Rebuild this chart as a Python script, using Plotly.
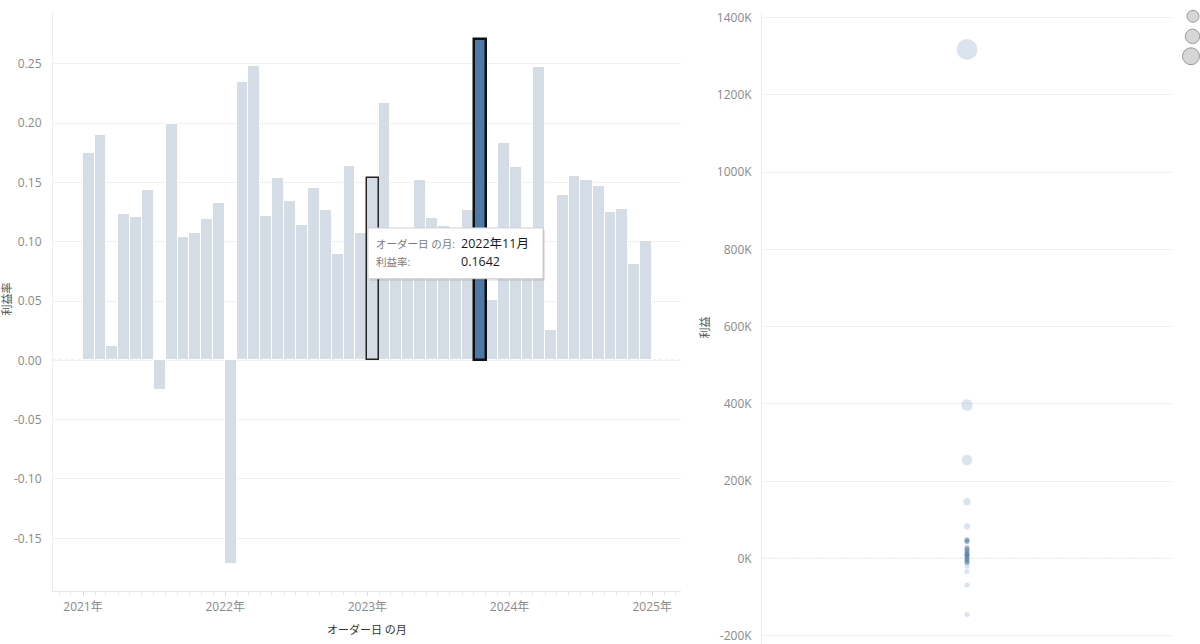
import pandas as pd
import plotly.graph_objects as go

# ---------------- data ----------------
month_start = "2021-01-01"
month_end = "2024-12-01"
profit_rate = [0.175, 0.190, 0.012, 0.123, 0.121, 0.144, -0.025, 0.199, 0.104, 0.107, 0.119, 0.133,
               -0.172, 0.235, 0.248, 0.122, 0.154, 0.134, 0.114, 0.145, 0.127, 0.090, 0.1642, 0.107,
               0.154, 0.217, 0.085, 0.095, 0.152, 0.120, 0.113, 0.100, 0.127, 0.271, 0.051, 0.183,
               0.163, 0.090, 0.247, 0.026, 0.139, 0.155, 0.152, 0.147, 0.125, 0.128, 0.081, 0.101]
selected_month = "2023-10-01"
outlined_month = "2023-01-01"
tooltip_month = "2022-11-01"

# scatter: profit (yen) and sales (yen) per item; highlighted items drawn dark
light_profit = [1318000, 397000, 255000, 147000, 83000, 30000, 22000, 8000, -5000, -12000,
                -20000, -34000, -69000, -145000]
light_sales = [6000000, 1800000, 1500000, 720000, 520000, 260000, 200000, 150000, 100000, 90000,
               80000, 90000, 160000, 160000]
dark_profit = [48000, 44000, 26000, 20000, 14000, 10000, 6000, 2000, -4000, -10000]
dark_sales = [380000, 330000, 200000, 260000, 330000, 240000, 150000, 100000, 80000, 60000]

left_yticks = [-0.15, -0.10, -0.05, 0.00, 0.05, 0.10, 0.15, 0.20, 0.25]
right_yticks = [-200000, 0, 200000, 400000, 600000, 800000, 1000000, 1200000, 1400000]

# ---------------- styling ----------------
FONT = "Open Sans, Noto Sans CJK JP, sans-serif"
LIGHT = "#d4dde6"
DARK = "#4e79a7"
TICK = "#8a8a8a"
GRID = "#f0f0f0"
W, H = 1200, 644


def px(x):
    return x / W


def py(y):
    return (H - y) / H


months = pd.date_range(month_start, month_end, freq="MS")
widths = [(m + pd.offsets.MonthBegin(1) - m).total_seconds() * 1000 for m in months]
df = pd.DataFrame({"month": months, "rate": profit_rate, "width": widths})

fig = go.Figure()

fig.add_trace(go.Bar(
    x=df["month"], y=df["rate"], width=df["width"], offset=0,
    marker=dict(color=LIGHT, line=dict(color="white", width=1)),
    xaxis="x", yaxis="y", hoverinfo="skip"))

o = df[df["month"] == pd.Timestamp(outlined_month)]
fig.add_trace(go.Bar(
    x=o["month"], y=o["rate"], width=o["width"], offset=0,
    marker=dict(color=LIGHT, line=dict(color="#222222", width=1.5)),
    xaxis="x", yaxis="y", hoverinfo="skip"))

s = df[df["month"] == pd.Timestamp(selected_month)]
fig.add_trace(go.Bar(
    x=s["month"], y=s["rate"], width=s["width"], offset=0,
    marker=dict(color=DARK, line=dict(color="#111111", width=2.5)),
    xaxis="x", yaxis="y", hoverinfo="skip"))

max_sales = max(light_sales + dark_sales)
sizeref = 2.0 * max_sales / (21 ** 2)
fig.add_trace(go.Scatter(
    x=[0] * len(light_profit), y=light_profit, mode="markers",
    marker=dict(size=light_sales, sizemode="area", sizeref=sizeref, sizemin=2.5,
                color="rgba(188,205,226,0.78)", line=dict(width=0)),
    xaxis="x2", yaxis="y2", hoverinfo="skip"))
fig.add_trace(go.Scatter(
    x=[0] * len(dark_profit), y=dark_profit, mode="markers",
    marker=dict(size=dark_sales, sizemode="area", sizeref=sizeref, sizemin=2.5,
                color="rgba(78,121,167,0.75)", line=dict(width=0)),
    xaxis="x2", yaxis="y2", hoverinfo="skip"))

fig.update_layout(
    width=W, height=H, margin=dict(l=0, r=0, t=0, b=0),
    plot_bgcolor="white", paper_bgcolor="white", showlegend=False,
    bargap=0, barmode="overlay",
    font=dict(family=FONT, size=12, color=TICK),
    xaxis=dict(domain=[px(53), px(681)], type="date",
               range=["2020-10-16", "2025-03-16"],
               tick0="2021-01-01", dtick="M12", tickformat="%Y年",
               ticks="outside", ticklen=4, tickcolor="#dddddd",
               minor=dict(dtick="M1", ticks="outside", ticklen=3, tickcolor="#e6e6e6"),
               showgrid=False, showline=True, linecolor="#e8e8e8", zeroline=False,
               tickfont=dict(size=12, color=TICK), anchor="y"),
    yaxis=dict(domain=[py(591), py(9)], range=[-0.1946, 0.2936],
               tickmode="array", tickvals=left_yticks,
               ticktext=[f"{v:.2f}" for v in left_yticks],
               showgrid=True, gridcolor=GRID, zeroline=False,
               showline=True, linecolor="#eeeeee", ticklabelstandoff=8,
               tickfont=dict(size=12, color=TICK), anchor="x"),
    xaxis2=dict(domain=[px(762), px(1172)], range=[-1, 1], showticklabels=False,
                showgrid=False, zeroline=False, showline=False, anchor="y2"),
    yaxis2=dict(domain=[0, py(9)], range=[-221600, 1415000],
                tickmode="array", tickvals=right_yticks,
                ticktext=[f"{int(v / 1000)}K" for v in right_yticks],
                showgrid=True, gridcolor=GRID, zeroline=False,
                showline=True, linecolor="#eeeeee", ticklabelstandoff=7,
                tickfont=dict(size=12, color=TICK), anchor="x2"),
)

shapes = [
    dict(type="line", xref="x domain", yref="y", x0=0, x1=1, y0=0, y1=0,
         line=dict(color="#aaaaaa", width=1, dash="dot"), layer="below"),
    dict(type="line", xref="x2 domain", yref="y2", x0=0, x1=1, y0=0, y1=0,
         line=dict(color="#aaaaaa", width=1, dash="dot"), layer="below"),
]
# size legend (cut at right edge)
for cx, cy, d in [(1193, 13.3, 12), (1192.5, 33.5, 14.5), (1191, 53.5, 17)]:
    shapes.append(dict(type="circle", xref="paper", yref="paper",
                       x0=px(cx - d / 2), x1=px(cx + d / 2), y0=py(cy + d / 2), y1=py(cy - d / 2),
                       fillcolor="#d6d6d6", line=dict(color="#9a9a9a", width=1)))
# tooltip box with shadow
shapes.append(dict(type="rect", xref="paper", yref="paper",
                   x0=px(370), x1=px(545), y0=py(279), y1=py(228),
                   fillcolor="rgba(0,0,0,0.10)", line=dict(width=0)))
shapes.append(dict(type="rect", xref="paper", yref="paper",
                   x0=px(368), x1=px(543), y0=py(277), y1=py(226),
                   fillcolor="white", line=dict(color="#d0d0d0", width=1)))
fig.update_layout(shapes=shapes)

tip_val = df.loc[df["month"] == pd.Timestamp(tooltip_month), "rate"].iloc[0]
tip_month = pd.Timestamp(tooltip_month)
tip_label = f"{tip_month.year}年{tip_month.month}月"

ann = [
    dict(text="利益率", x=px(7), y=py(298), textangle=-90, font=dict(size=11, color="#555555")),
    dict(text="利益", x=px(704), y=py(326), textangle=-90, font=dict(size=11, color="#555555")),
    dict(text="オーダー日 の月", x=px(367), y=py(629), font=dict(size=11, color="#333333")),
    dict(text="オーダー日 の月:", x=px(374), y=py(242), xanchor="left",
         font=dict(size=10.5, color="#7a7a7a")),
    dict(text=tip_label, x=px(459), y=py(242), xanchor="left",
         font=dict(size=12.5, color="#1a1a1a")),
    dict(text="利益率:", x=px(374), y=py(260), xanchor="left",
         font=dict(size=10.5, color="#7a7a7a")),
    dict(text=f"{tip_val:.4f}", x=px(459), y=py(260), xanchor="left",
         font=dict(size=12.5, color="#1a1a1a")),
]
for a in ann:
    a.setdefault("xanchor", "center")
    a.update(xref="paper", yref="paper", yanchor="middle", showarrow=False)
fig.update_layout(annotations=ann)

fig.write_html("out.html")
